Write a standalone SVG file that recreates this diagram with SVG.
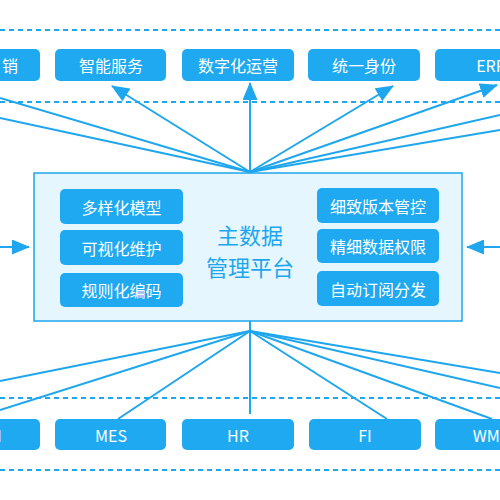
<svg xmlns="http://www.w3.org/2000/svg" width="500" height="500" viewBox="0 0 500 500">
<style>
.dash{stroke:#1ea6ee;stroke-width:2;stroke-dasharray:5 4;fill:none}
.ln{stroke:#1ea6ee;stroke-width:2;fill:none}
.arr{marker-end:url(#ah)}
.box{fill:#1ea9f1}
.sub{fill:#1ea9f1}
.t{font-family:"Noto Sans CJK SC","Noto Sans",sans-serif;font-size:16px;fill:#ffffff;text-anchor:middle;dominant-baseline:central}
.title{font-family:"Noto Sans CJK SC","Noto Sans",sans-serif;font-size:22px;fill:#1ea6ee;text-anchor:middle}
</style>
<defs>
<marker id="ah" markerUnits="userSpaceOnUse" viewBox="0 0 18 15" markerWidth="18" markerHeight="15" refX="17" refY="7.5" orient="auto">
<path d="M0,0 L18,7.5 L0,15 z" fill="#1ea6ee"/>
</marker>
</defs>
<rect width="500" height="500" fill="#ffffff"/>
<g id="dashes">
<line class="dash" x1="0" y1="30" x2="500" y2="30"/>
<line class="dash" x1="0" y1="102" x2="500" y2="102"/>
<line class="dash" x1="0" y1="398" x2="500" y2="398"/>
<line class="dash" x1="0" y1="470" x2="500" y2="470"/>
</g>
<g id="center">
<rect x="34" y="173" width="428" height="148" fill="#e6f6fe" stroke="#1ea6ee" stroke-width="1.5"/>
<text class="title" x="250" y="244">主数据</text>
<text class="title" x="250" y="276">管理平台</text>
</g>
<g id="connectors">
<line class="ln" x1="250" y1="172" x2="0" y2="98"/>
<line class="ln" x1="250" y1="172" x2="0" y2="118"/>
<line class="ln arr" x1="250" y1="172" x2="112" y2="86"/>
<line class="ln arr" x1="250" y1="173" x2="250" y2="83"/>
<line class="ln arr" x1="250" y1="172" x2="393" y2="86"/>
<line class="ln arr" x1="250" y1="172" x2="497" y2="85"/>
<line class="ln" x1="250" y1="172" x2="500" y2="115"/>
<line class="ln" x1="250" y1="172" x2="500" y2="130"/>
<line class="ln" x1="250" y1="321" x2="250" y2="414"/>
<line class="ln" x1="250" y1="331" x2="0" y2="381"/>
<line class="ln" x1="250" y1="331" x2="0" y2="410"/>
<line class="ln" x1="250" y1="331" x2="118" y2="419"/>
<line class="ln" x1="250" y1="331" x2="387" y2="419"/>
<line class="ln" x1="250" y1="331" x2="492" y2="419"/>
<line class="ln" x1="250" y1="331" x2="500" y2="373"/>
<line class="ln" x1="250" y1="331" x2="500" y2="388"/>
<line class="ln arr" x1="0" y1="247" x2="29" y2="247"/>
<line class="ln arr" x1="500" y1="247" x2="467" y2="247"/>
</g>
<g id="top-1"><rect class="box" x="-71" y="49" width="111" height="32" rx="5"/><text class="t" x="10" y="65">销</text></g>
<g id="top-2"><rect class="box" x="55" y="49" width="111" height="32" rx="5"/><text class="t" x="111" y="65">智能服务</text></g>
<g id="top-3"><rect class="box" x="182" y="49" width="112" height="32" rx="5"/><text class="t" x="238" y="65">数字化运营</text></g>
<g id="top-4"><rect class="box" x="308" y="49" width="112" height="32" rx="5"/><text class="t" x="364" y="65">统一身份</text></g>
<g id="top-5"><rect class="box" x="435" y="49" width="112" height="32" rx="5"/><text class="t" x="491" y="65">ERP</text></g>
<g id="bot-1"><rect class="box" x="-71" y="419" width="111" height="31" rx="5"/><text class="t" x="-15" y="435">CRM</text></g>
<g id="bot-2"><rect class="box" x="55" y="419" width="111" height="31" rx="5"/><text class="t" x="111" y="435">MES</text></g>
<g id="bot-3"><rect class="box" x="182" y="419" width="112" height="31" rx="5"/><text class="t" x="238" y="435">HR</text></g>
<g id="bot-4"><rect class="box" x="309" y="419" width="112" height="31" rx="5"/><text class="t" x="365" y="435">FI</text></g>
<g id="bot-5"><rect class="box" x="435" y="419" width="112" height="31" rx="5"/><text class="t" x="491" y="435">WMS</text></g>
<g id="feat-l1"><rect class="sub" x="60" y="189" width="123" height="35" rx="5"/><text class="t" x="121.5" y="207">多样化模型</text></g>
<g id="feat-l2"><rect class="sub" x="60" y="230" width="123" height="35" rx="5"/><text class="t" x="121.5" y="248">可视化维护</text></g>
<g id="feat-l3"><rect class="sub" x="60" y="273" width="123" height="34" rx="5"/><text class="t" x="121.5" y="290">规则化编码</text></g>
<g id="feat-r1"><rect class="sub" x="317" y="188" width="122" height="35" rx="5"/><text class="t" x="378" y="206">细致版本管控</text></g>
<g id="feat-r2"><rect class="sub" x="317" y="229" width="122" height="34" rx="5"/><text class="t" x="378" y="246">精细数据权限</text></g>
<g id="feat-r3"><rect class="sub" x="317" y="271" width="122" height="35" rx="5"/><text class="t" x="378" y="289">自动订阅分发</text></g>
</svg>
